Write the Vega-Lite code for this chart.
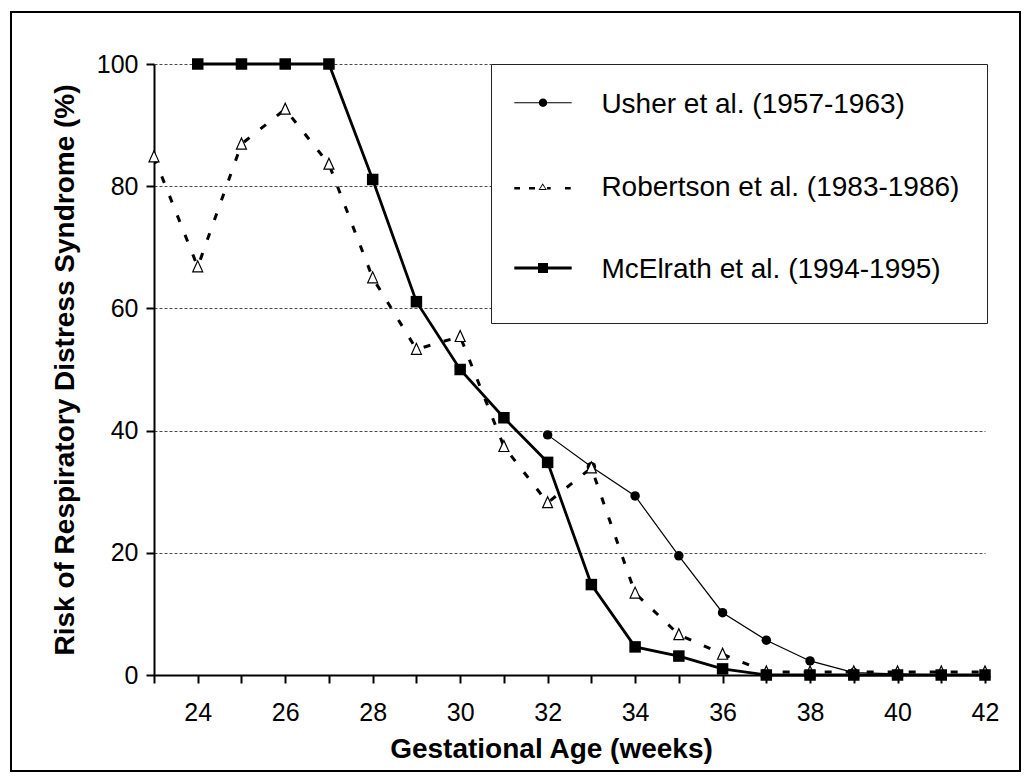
{
  "$schema": "https://vega.github.io/schema/vega-lite/v6.json",
  "width": 831,
  "height": 611,
  "autosize": {"type": "none"},
  "padding": {"left": 154, "top": 64, "right": 46, "bottom": 108},
  "background": "white",
  "config": {
    "view": {"stroke": null},
    "font": "Liberation Sans"
  },
  "layer": [
    {
      "data": {"values": [{}]},
      "mark": {"type": "rect", "x": -143, "x2": 866, "y": -52, "y2": 707, "fillOpacity": 0, "stroke": "black", "strokeWidth": 2, "clip": false},
      "encoding": {}
    },
    {
      "data": {
        "values": [
          {"week": 32, "risk": 39.3, "series": "Usher et al. (1957-1963)"},
          {"week": 33, "risk": 34.1, "series": "Usher et al. (1957-1963)"},
          {"week": 34, "risk": 29.3, "series": "Usher et al. (1957-1963)"},
          {"week": 35, "risk": 19.5, "series": "Usher et al. (1957-1963)"},
          {"week": 36, "risk": 10.2, "series": "Usher et al. (1957-1963)"},
          {"week": 37, "risk": 5.7, "series": "Usher et al. (1957-1963)"},
          {"week": 38, "risk": 2.3, "series": "Usher et al. (1957-1963)"},
          {"week": 39, "risk": 0.4, "series": "Usher et al. (1957-1963)"},
          {"week": 40, "risk": 0.2, "series": "Usher et al. (1957-1963)"},
          {"week": 41, "risk": 0, "series": "Usher et al. (1957-1963)"},
          {"week": 42, "risk": 0, "series": "Usher et al. (1957-1963)"},
          {"week": 23, "risk": 84.8, "series": "Robertson et al. (1983-1986)"},
          {"week": 24, "risk": 66.8, "series": "Robertson et al. (1983-1986)"},
          {"week": 25, "risk": 86.9, "series": "Robertson et al. (1983-1986)"},
          {"week": 26, "risk": 92.6, "series": "Robertson et al. (1983-1986)"},
          {"week": 27, "risk": 83.6, "series": "Robertson et al. (1983-1986)"},
          {"week": 28, "risk": 65, "series": "Robertson et al. (1983-1986)"},
          {"week": 29, "risk": 53.3, "series": "Robertson et al. (1983-1986)"},
          {"week": 30, "risk": 55.4, "series": "Robertson et al. (1983-1986)"},
          {"week": 31, "risk": 37.4, "series": "Robertson et al. (1983-1986)"},
          {"week": 32, "risk": 28.2, "series": "Robertson et al. (1983-1986)"},
          {"week": 33, "risk": 33.9, "series": "Robertson et al. (1983-1986)"},
          {"week": 34, "risk": 13.4, "series": "Robertson et al. (1983-1986)"},
          {"week": 35, "risk": 6.6, "series": "Robertson et al. (1983-1986)"},
          {"week": 36, "risk": 3.4, "series": "Robertson et al. (1983-1986)"},
          {"week": 37, "risk": 0.5, "series": "Robertson et al. (1983-1986)"},
          {"week": 38, "risk": 0.5, "series": "Robertson et al. (1983-1986)"},
          {"week": 39, "risk": 0.5, "series": "Robertson et al. (1983-1986)"},
          {"week": 40, "risk": 0.5, "series": "Robertson et al. (1983-1986)"},
          {"week": 41, "risk": 0.5, "series": "Robertson et al. (1983-1986)"},
          {"week": 42, "risk": 0.5, "series": "Robertson et al. (1983-1986)"},
          {"week": 24, "risk": 100, "series": "McElrath et al. (1994-1995)"},
          {"week": 25, "risk": 100, "series": "McElrath et al. (1994-1995)"},
          {"week": 26, "risk": 100, "series": "McElrath et al. (1994-1995)"},
          {"week": 27, "risk": 100, "series": "McElrath et al. (1994-1995)"},
          {"week": 28, "risk": 81.1, "series": "McElrath et al. (1994-1995)"},
          {"week": 29, "risk": 61.1, "series": "McElrath et al. (1994-1995)"},
          {"week": 30, "risk": 50, "series": "McElrath et al. (1994-1995)"},
          {"week": 31, "risk": 42.1, "series": "McElrath et al. (1994-1995)"},
          {"week": 32, "risk": 34.8, "series": "McElrath et al. (1994-1995)"},
          {"week": 33, "risk": 14.8, "series": "McElrath et al. (1994-1995)"},
          {"week": 34, "risk": 4.6, "series": "McElrath et al. (1994-1995)"},
          {"week": 35, "risk": 3.1, "series": "McElrath et al. (1994-1995)"},
          {"week": 36, "risk": 1, "series": "McElrath et al. (1994-1995)"},
          {"week": 37, "risk": 0, "series": "McElrath et al. (1994-1995)"},
          {"week": 38, "risk": 0, "series": "McElrath et al. (1994-1995)"},
          {"week": 39, "risk": 0, "series": "McElrath et al. (1994-1995)"},
          {"week": 40, "risk": 0, "series": "McElrath et al. (1994-1995)"},
          {"week": 41, "risk": 0, "series": "McElrath et al. (1994-1995)"},
          {"week": 42, "risk": 0, "series": "McElrath et al. (1994-1995)"}
        ]
      },
      "encoding": {
        "x": {
          "field": "week",
          "type": "quantitative",
          "scale": {"domain": [23, 42], "nice": false, "zero": false},
          "axis": {
            "values": [23, 24, 25, 26, 27, 28, 29, 30, 31, 32, 33, 34, 35, 36, 37, 38, 39, 40, 41, 42],
            "labelExpr": "datum.value % 2 === 0 ? datum.label : ''",
            "labelOverlap": false,
            "labelFlush": false,
            "labelBound": false,
            "grid": false,
            "domainColor": "black",
            "domainWidth": 2,
            "tickColor": "black",
            "tickWidth": 2,
            "tickSize": 8,
            "labelFontSize": 25,
            "labelFont": "Liberation Sans",
            "labelColor": "black",
            "labelPadding": 17,
            "title": "Gestational Age (weeks)",
            "titleFont": "Liberation Sans",
            "titleFontSize": 28,
            "titleFontWeight": "bold",
            "titleColor": "black",
            "titleX": 397,
            "titleY": 82,
            "titleAlign": "center",
            "titleBaseline": "alphabetic"
          }
        },
        "y": {
          "field": "risk",
          "type": "quantitative",
          "scale": {"domain": [0, 100], "nice": false},
          "axis": {
            "values": [0, 20, 40, 60, 80, 100],
            "grid": true,
            "gridColor": "#000000",
            "gridDash": [3, 2],
            "gridWidth": 1,
            "gridOpacity": 0.7,
            "domainColor": "black",
            "domainWidth": 2,
            "tickColor": "black",
            "tickWidth": 2,
            "tickSize": 8,
            "labelFontSize": 25,
            "labelFont": "Liberation Sans",
            "labelColor": "black",
            "labelPadding": 8,
            "title": "Risk of Respiratory Distress Syndrome (%)",
            "titleFont": "Liberation Sans",
            "titleFontSize": 28,
            "titleFontWeight": "bold",
            "titleColor": "black",
            "titleX": -81,
            "titleY": 305.5,
            "titleAngle": -90,
            "titleAlign": "center",
            "titleBaseline": "alphabetic"
          }
        }
      },
      "layer": [
        {
          "transform": [{"filter": "datum.series === 'Usher et al. (1957-1963)'"}],
          "mark": {"type": "line", "color": "black", "strokeWidth": 1.2},
          "encoding": {}
        },
        {
          "transform": [{"filter": "datum.series === 'Robertson et al. (1983-1986)'"}],
          "mark": {"type": "line", "color": "black", "strokeWidth": 3, "strokeDash": [7, 14]},
          "encoding": {}
        },
        {
          "transform": [{"filter": "datum.series === 'McElrath et al. (1994-1995)'"}],
          "mark": {"type": "line", "color": "black", "strokeWidth": 2.8},
          "encoding": {}
        },
        {
          "transform": [{"filter": "datum.series === 'Usher et al. (1957-1963)'"}],
          "mark": {"type": "point", "shape": "circle", "size": 90, "filled": true, "fill": "black", "strokeWidth": 0, "opacity": 1},
          "encoding": {}
        },
        {
          "transform": [{"filter": "datum.series === 'Robertson et al. (1983-1986)'"}],
          "mark": {"type": "point", "shape": "M0,-1.2L-1,1L1,1Z", "size": 100, "filled": true, "fill": "white", "stroke": "black", "strokeWidth": 1.2, "opacity": 1},
          "encoding": {}
        },
        {
          "transform": [{"filter": "datum.series === 'McElrath et al. (1994-1995)'"}],
          "mark": {"type": "point", "shape": "M-1.15,-1.15H1.15V1.15H-1.15Z", "size": 100, "filled": true, "fill": "black", "strokeWidth": 0, "opacity": 1},
          "encoding": {}
        },
        {
          "mark": {"type": "point", "filled": true, "fill": "black", "strokeWidth": 0, "size": 100, "opacity": 0},
          "encoding": {
            "shape": {
              "field": "series",
              "type": "nominal",
              "scale": {
                "domain": ["Usher et al. (1957-1963)", "Robertson et al. (1983-1986)", "McElrath et al. (1994-1995)"],
                "range": [
                  "M-5.74,-0.56H5.74V-0.36H-5.74ZM0.84,-0.46C0.84,0.004 0.464,0.38 0,0.38C-0.464,0.38 -0.84,0.004 -0.84,-0.46C-0.84,-0.924 -0.464,-1.3 0,-1.3C0.464,-1.3 0.84,-0.924 0.84,-0.46Z",
                  "M-5.74,-0.12H-4.6V0.36H-5.74ZM-2.8,-0.12H-1.6V0.36H-2.8ZM0.82,-0.12H1.54V0.36H0.82ZM4.4,-0.12H5.54V0.36H4.4ZM-0.06,-0.88L-0.9,0.48L0.78,0.48ZM-0.06,-0.5L0.48,0.3L-0.6,0.3Z",
                  "M-5.74,-0.72H5.74V-0.16H-5.74ZM-1,-1.44H1V0.56H-1Z"
                ]
              },
              "legend": {
                "title": " ",
                "titleOrient": "bottom",
                "titleFontSize": 6,
                "titlePadding": 5.5,
                "orient": "none",
                "direction": "vertical",
                "legendX": 337,
                "legendY": 0,
                "padding": 27,
                "rowPadding": 54.6,
                "symbolOffset": 11,
                "labelOffset": 44.4,
                "symbolSize": 100,
                "symbolOpacity": 1,
                "symbolFillColor": "black",
                "symbolStrokeWidth": 0,
                "symbolStrokeColor": "transparent",
                "strokeColor": "#222222",
                "fillColor": "white",
                "labelFont": "Liberation Sans",
                "labelFontSize": 28,
                "labelColor": "black",
                "labelLimit": 0
              }
            }
          }
        }
      ]
    }
  ]
}
